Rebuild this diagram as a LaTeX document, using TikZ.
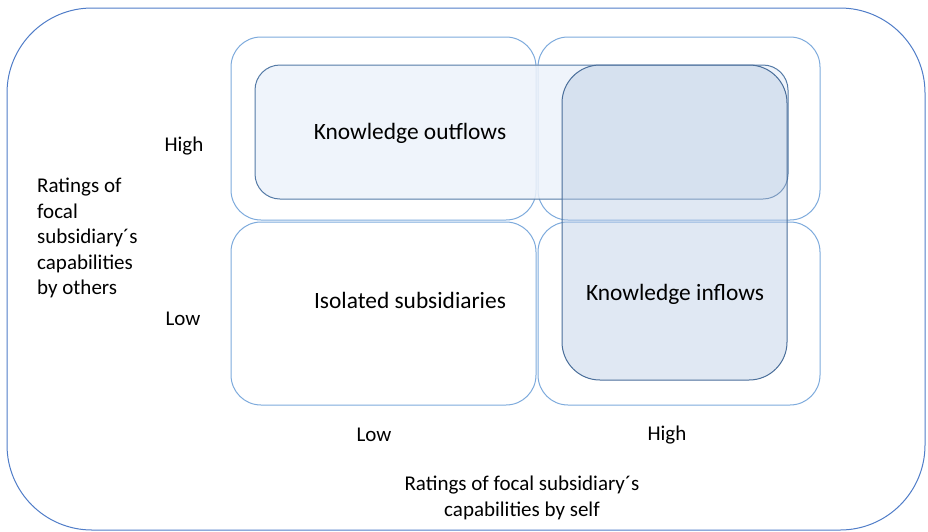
\documentclass[tikz,border=0pt]{standalone}
\usepackage{fontspec}
\setmainfont{Carlito}
\definecolor{outerc}{RGB}{80,125,200}
\definecolor{quadc}{RGB}{125,170,220}
\definecolor{outfill}{RGB}{236,242,250}
\definecolor{outdraw}{RGB}{84,122,166}
\definecolor{infill}{RGB}{180,200,226}
\definecolor{indraw}{RGB}{74,110,154}
\tikzset{
  quad/.style={draw=quadc, line width=1pt, rounded corners=30pt, minimum width=#1, minimum height=183pt, inner sep=0pt},
  lbl/.style={font=\fontsize{21}{25.5}\selectfont, inner sep=0pt, text=black},
  biglbl/.style={font=\fontsize{23.4}{28}\selectfont, inner sep=0pt, text=black},
}
\begin{document}
\begin{tikzpicture}[x=1pt,y=-1pt]
\useasboundingbox (0,0) rectangle (928,531);
\node[draw=outerc, line width=1pt, rounded corners=85pt, minimum width=918pt, minimum height=522pt, inner sep=0pt] (outer) at (466,269) {};
\node[quad=305pt] (tl) at (383.5,128.5) {};
\node[quad=282pt] (tr) at (679,128.5) {};
\node[quad=305pt] (bl) at (383.5,313.5) {};
\node[quad=282pt] (br) at (679,313.5) {};
\node[draw=outdraw, line width=1pt, fill=outfill, fill opacity=0.85, rounded corners=25pt, minimum width=533pt, minimum height=134pt, inner sep=0pt] (outflows) at (521.5,132) {};
\node[draw=indraw, line width=1pt, fill=infill, fill opacity=0.42, rounded corners=38pt, minimum width=225pt, minimum height=315pt, inner sep=0pt] (inflows) at (674.5,222.5) {};
\node[biglbl] (tout) at (410,133) {Knowledge outflows};
\node[biglbl] (tiso) at (410,300) {Isolated subsidiaries};
\node[biglbl] (tin) at (675,294) {Knowledge inflows};
\node[lbl] (yhigh) at (184,146) {High};
\node[lbl] (ylow) at (183,319) {Low};
\node[lbl] (xlow) at (374,435) {Low};
\node[lbl] (xhigh) at (667,435) {High};
\node[lbl, align=left, anchor=north west] (ylab) at (37,178) {Ratings of\\focal\\subsidiary´s\\capabilities\\by others};
\node[lbl, align=center] (xlab) at (522,498) {Ratings of focal subsidiary´s\\capabilities by self};
\end{tikzpicture}
\end{document}
